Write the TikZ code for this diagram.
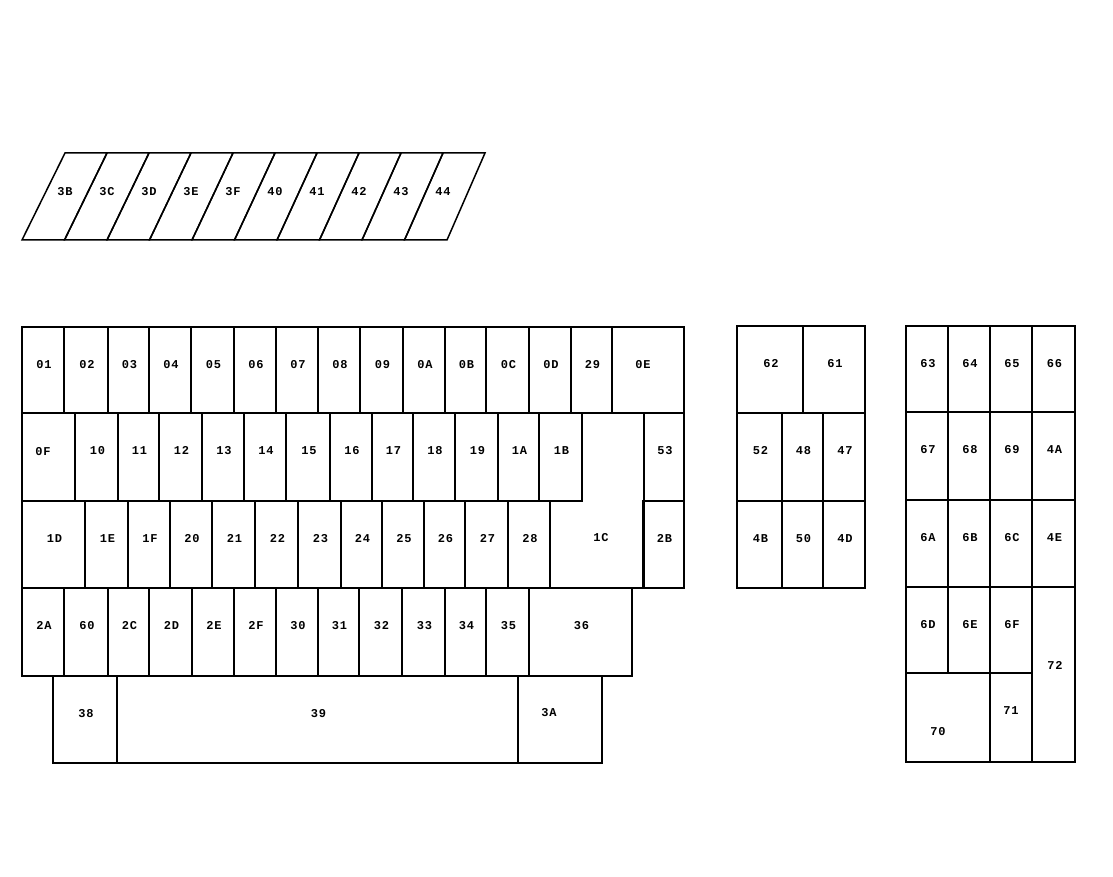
\documentclass[tikz,border=0pt]{standalone}
\usepackage{fontspec}
\newfontfamily\keyfont[LetterSpace=8]{Liberation Mono}
\tikzset{
  keyline/.style={draw=black, line width=1.5pt, line join=miter},
  lab/.style={font=\keyfont\bfseries\fontsize{12}{12}\selectfont, inner sep=0pt, text height=8pt, text depth=0pt, anchor=center},
}
\newcommand\keyrow[3]{%
  \foreach \a/\b/\t in {#3}{%
    \draw[keyline] (\a,#1) rectangle (\b,#2);
    \node[lab] (k\t) at ({(\a+\b)/2+1},{#1+37}) {\t};
  }%
}
\begin{document}
\begin{tikzpicture}[x=1pt,y=-1pt]
\fill[white] (0,0) rectangle (1113,877);
\useasboundingbox (0,0) rectangle (1113,877);

% slanted row
\foreach \t [count=\i from 0] in {3B,3C,3D,3E,3F,40,41,42,43,44}{
  \draw[keyline] ({22+42.5*\i},240) -- ({65+42*\i},153) -- ({107+42*\i},153) -- ({64.5+42.5*\i},240) -- cycle;
  \node[lab] (k\t) at ({65+42*\i},192) {\t};
}

% main block
\keyrow{327}{413}{22/64/01,64/108/02,108/149/03,149/191/04,191/234/05,234/276/06,276/318/07,318/360/08,360/403/09,403/445/0A,445/486/0B,486/529/0C,529/571/0D,571/612/29}
\draw[keyline] (612,327) rectangle (684,413);
\node[lab] (k0E) at (643,364) {0E};

\draw[keyline] (22,413) rectangle (75,501);
\node[lab] (k0F) at (43,451) {0F};
\keyrow{413}{501}{75/118/10,118/159/11,159/202/12,202/244/13,244/286/14,286/330/15,330/372/16,372/413/17,413/455/18,455/498/19,498/539/1A,539/582/1B,644/684/53}

\keyrow{501}{588}{22/85/1D,85/128/1E,128/170/1F,170/212/20,212/255/21,255/298/22,298/341/23,341/382/24,382/424/25,424/465/26,465/508/27,508/550/28,643/684/2B}
\draw[keyline] (582,413) -- (644,413) -- (644,588) -- (550,588) -- (550,501) -- (582,501) -- cycle;
\node[lab] (k1C) at (601,537) {1C};

\keyrow{588}{676}{22/64/2A,64/108/60,108/149/2C,149/192/2D,192/234/2E,234/276/2F,276/318/30,318/359/31,359/402/32,402/445/33,445/486/34,486/529/35,529/632/36}

\keyrow{676}{763}{53/117/38,117/518/39}
\draw[keyline] (518,676) rectangle (602,763);
\node[lab] (k3A) at (549,712) {3A};

% middle block
\keyrow{326}{413}{737/803/62,803/865/61}
\keyrow{413}{501}{737/782/52,782/823/48,823/865/47}
\keyrow{501}{588}{737/782/4B,782/823/50,823/865/4D}

% right block
\keyrow{326}{412}{906/948/63,948/990/64,990/1032/65,1032/1075/66}
\keyrow{412}{500}{906/948/67,948/990/68,990/1032/69,1032/1075/4A}
\keyrow{500}{587}{906/948/6A,948/990/6B,990/1032/6C,1032/1075/4E}
\keyrow{587}{673}{906/948/6D,948/990/6E,990/1032/6F}
\draw[keyline] (1032,587) rectangle (1075,762);
\node[lab] (k72) at (1055,665) {72};
\draw[keyline] (906,673) rectangle (990,762);
\node[lab] (k70) at (938,731) {70};
\draw[keyline] (990,673) rectangle (1032,762);
\node[lab] (k71) at (1011,710) {71};
\end{tikzpicture}
\end{document}
